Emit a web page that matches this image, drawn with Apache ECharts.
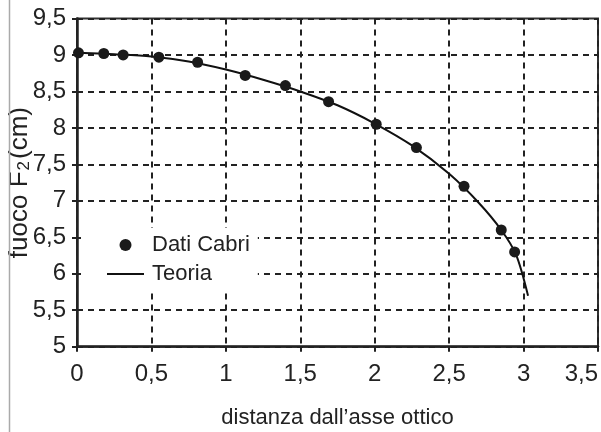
<!DOCTYPE html>
<html>
<head>
<meta charset="utf-8">
<script src="https://cdn.jsdelivr.net/npm/echarts@6/dist/echarts.min.js"></script>
<style>html,body{margin:0;padding:0;background:#fff;}#c{width:601px;height:432px;}</style>
</head>
<body>
<div id="c"></div>
<script>
var xTicks = ['0','0,5','1','1,5','2','2,5','3','3,5'];
var cabriX = [0.01, 0.18, 0.31, 0.55, 0.81, 1.13, 1.40, 1.69, 2.01, 2.28, 2.60, 2.85, 2.94];
var cabriY = [9.03, 9.02, 9.00, 8.97, 8.90, 8.72, 8.58, 8.36, 8.05, 7.73, 7.20, 6.60, 6.30];
var theoryX = [0, 0.25, 0.5, 0.75, 1.0, 1.25, 1.5, 1.75, 2.0, 2.25, 2.5, 2.7, 2.85, 2.95, 3.03];
var theoryY = [9.03, 9.01, 8.98, 8.91, 8.80, 8.66, 8.50, 8.31, 8.06, 7.76, 7.37, 6.97, 6.60, 6.26, 5.70];

var narrow = '"Liberation Sans Narrow", "Arial Narrow", "Liberation Sans", Arial, sans-serif';
var sans = '"Liberation Sans", Arial, Helvetica, sans-serif';
function fmt(v){ return String(Math.round(v*10)/10).replace('.', ','); }

var chart = echarts.init(document.getElementById('c'), null, {renderer:'canvas'});
chart.setOption({
  animation: false,
  backgroundColor: '#fff',
  grid: {left: 77, right: 3, top: 18.5, bottom: 85.3, show: true, borderColor: '#333', borderWidth: 2,
         containLabel: false, outerBoundsMode: 'none'},
  legend: {
    orient: 'vertical', left: 81, top: 228,
    padding: [6, 8, 6, 25], itemGap: 7, itemWidth: 37, itemHeight: 12,
    backgroundColor: '#fff',
    textStyle: {fontFamily: sans, fontSize: 22, color: '#222', padding: [0,0,0,3]},
    data: [{name: 'Dati Cabri', icon: 'circle'}, {name: 'Teoria', itemStyle: {opacity: 0}}]
  },
  xAxis: {
    type: 'value', min: 0, max: 3.5, interval: 0.5,
    name: 'distanza dall\u2019asse ottico', nameLocation: 'middle', nameGap: 60, nameMoveOverlap: false,
    nameTextStyle: {fontFamily: sans, fontSize: 22, color: '#222'},
    axisLine: {show: true, onZero: false, lineStyle: {color: '#222', width: 2.5}},
    axisTick: {show: true, length: 5, lineStyle: {color: '#222', width: 2}},
    axisLabel: {margin: 16, fontFamily: narrow, fontSize: 24, color: '#222', alignMaxLabel: 'right',
                formatter: function(v){ return xTicks[Math.round(v/0.5)]; }},
    splitLine: {show: true, lineStyle: {color: '#222', width: 2, type: [6, 5]}}
  },
  yAxis: {
    type: 'value', min: 5, max: 9.5, interval: 0.5,
    name: '{a|fuoco F}{s|2}{a|(cm)}', nameLocation: 'middle', nameGap: 44, nameRotate: 90, nameMoveOverlap: false,
    nameTextStyle: {rich: {
      a: {fontFamily: sans, fontSize: 26, color: '#222'},
      s: {fontFamily: sans, fontSize: 17, color: '#222', verticalAlign: 'bottom', padding: [0, 2, 0, 1]}
    }},
    axisLine: {show: true, onZero: false, lineStyle: {color: '#222', width: 2.5}},
    axisTick: {show: true, length: 5, lineStyle: {color: '#222', width: 2}},
    axisLabel: {margin: 11, fontFamily: narrow, fontSize: 24, color: '#222', formatter: fmt},
    splitLine: {show: true, lineStyle: {color: '#222', width: 2, type: [6, 5]}}
  },
  graphic: [{type: 'line', shape: {x1: 9.5, y1: 0, x2: 9.5, y2: 432}, style: {stroke: '#aaa', lineWidth: 1.5}, z: 100}],
  series: [
    {name: 'Teoria', type: 'line', data: theoryX.map(function(x,i){return [x, theoryY[i]];}),
     smooth: 0.3, symbol: 'none', lineStyle: {color: '#111', width: 2}, itemStyle: {color: '#111'}, z: 3},
    {name: 'Dati Cabri', type: 'scatter', data: cabriX.map(function(x,i){return [x, cabriY[i]];}),
     symbol: 'circle', symbolSize: 11, itemStyle: {color: '#1a1a1a', opacity: 1}, z: 4}
  ]
});
</script>
</body>
</html>
